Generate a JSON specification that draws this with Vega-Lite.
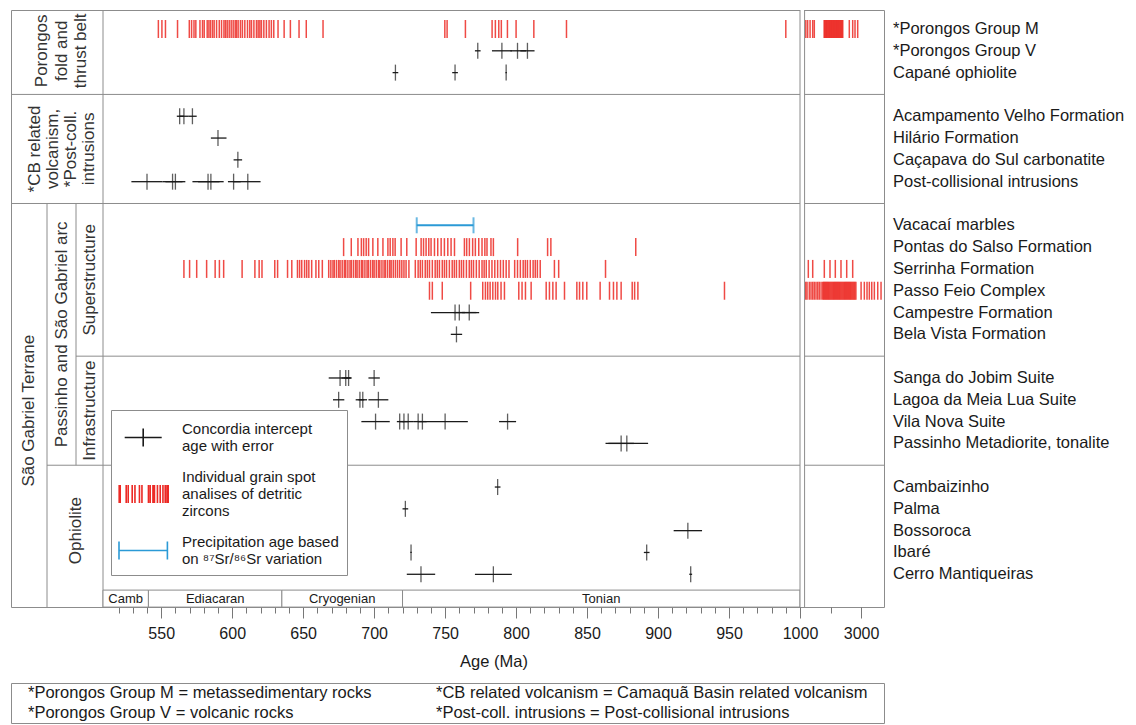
{
  "$schema": "https://vega.github.io/schema/vega-lite/v6.json",
  "padding": {"left": 10, "top": 9, "right": 0, "bottom": 0},
  "spacing": 12,
  "config": {
    "view": {"stroke": "#8c8c8c", "strokeWidth": 1},
    "font": "Liberation Sans",
    "text": {"font": "Liberation Sans", "color": "#1a1a1a"},
    "axis": {"labelFont": "Liberation Sans", "titleFont": "Liberation Sans"},
    "legend": {"labelFont": "Liberation Sans"}
  },
  "datasets": {
    "units": [
      {"unit": "*Porongos Group M"}, {"unit": "*Porongos Group V"}, {"unit": "Capané ophiolite"},
      {"unit": "Acampamento Velho Formation"}, {"unit": "Hilário Formation"}, {"unit": "Caçapava do Sul carbonatite"}, {"unit": "Post-collisional intrusions"},
      {"unit": "Vacacaí marbles"}, {"unit": "Pontas do Salso Formation"}, {"unit": "Serrinha Formation"}, {"unit": "Passo Feio Complex"}, {"unit": "Campestre Formation"}, {"unit": "Bela Vista Formation"},
      {"unit": "Sanga do Jobim Suite"}, {"unit": "Lagoa  da Meia Lua Suite"}, {"unit": "Vila Nova Suite"}, {"unit": "Passinho Metadiorite, tonalite"},
      {"unit": "Cambaizinho"}, {"unit": "Palma"}, {"unit": "Bossoroca"}, {"unit": "Ibaré"}, {"unit": "Cerro Mantiqueiras"}
    ],
    "zircons": [
      {"unit": "*Porongos Group M", "age": 548}, {"unit": "*Porongos Group M", "age": 550.5}, {"unit": "*Porongos Group M", "age": 553}, {"unit": "*Porongos Group M", "age": 561.5},
      {"unit": "*Porongos Group M", "age": 569.8}, {"unit": "*Porongos Group M", "age": 571.4}, {"unit": "*Porongos Group M", "age": 573.1}, {"unit": "*Porongos Group M", "age": 574.4},
      {"unit": "*Porongos Group M", "age": 577.3}, {"unit": "*Porongos Group M", "age": 579.1}, {"unit": "*Porongos Group M", "age": 580.3}, {"unit": "*Porongos Group M", "age": 582.4},
      {"unit": "*Porongos Group M", "age": 583.6}, {"unit": "*Porongos Group M", "age": 584.7}, {"unit": "*Porongos Group M", "age": 586.1}, {"unit": "*Porongos Group M", "age": 587.3},
      {"unit": "*Porongos Group M", "age": 589}, {"unit": "*Porongos Group M", "age": 590.9}, {"unit": "*Porongos Group M", "age": 592.5}, {"unit": "*Porongos Group M", "age": 594.2},
      {"unit": "*Porongos Group M", "age": 595.3}, {"unit": "*Porongos Group M", "age": 596.5}, {"unit": "*Porongos Group M", "age": 597.9}, {"unit": "*Porongos Group M", "age": 599.3},
      {"unit": "*Porongos Group M", "age": 600.7}, {"unit": "*Porongos Group M", "age": 602.1}, {"unit": "*Porongos Group M", "age": 603}, {"unit": "*Porongos Group M", "age": 604.2},
      {"unit": "*Porongos Group M", "age": 605.8}, {"unit": "*Porongos Group M", "age": 607.2}, {"unit": "*Porongos Group M", "age": 608.9}, {"unit": "*Porongos Group M", "age": 610.8},
      {"unit": "*Porongos Group M", "age": 612.4}, {"unit": "*Porongos Group M", "age": 613.6}, {"unit": "*Porongos Group M", "age": 615.3}, {"unit": "*Porongos Group M", "age": 617.1},
      {"unit": "*Porongos Group M", "age": 618.3}, {"unit": "*Porongos Group M", "age": 619.5}, {"unit": "*Porongos Group M", "age": 620.6}, {"unit": "*Porongos Group M", "age": 622.3},
      {"unit": "*Porongos Group M", "age": 624.1}, {"unit": "*Porongos Group M", "age": 626}, {"unit": "*Porongos Group M", "age": 627.6}, {"unit": "*Porongos Group M", "age": 629.3},
      {"unit": "*Porongos Group M", "age": 632.3}, {"unit": "*Porongos Group M", "age": 636.6}, {"unit": "*Porongos Group M", "age": 641}, {"unit": "*Porongos Group M", "age": 647.1},
      {"unit": "*Porongos Group M", "age": 652.2}, {"unit": "*Porongos Group M", "age": 664}, {"unit": "*Porongos Group M", "age": 749.8}, {"unit": "*Porongos Group M", "age": 751.4},
      {"unit": "*Porongos Group M", "age": 764.3}, {"unit": "*Porongos Group M", "age": 783.1}, {"unit": "*Porongos Group M", "age": 785.4}, {"unit": "*Porongos Group M", "age": 787.8},
      {"unit": "*Porongos Group M", "age": 789.6}, {"unit": "*Porongos Group M", "age": 793.9}, {"unit": "*Porongos Group M", "age": 800}, {"unit": "*Porongos Group M", "age": 812.5},
      {"unit": "*Porongos Group M", "age": 835.5}, {"unit": "*Porongos Group M", "age": 990},
      {"unit": "*Porongos Group M", "age": 1190}, {"unit": "*Porongos Group M", "age": 1250}, {"unit": "*Porongos Group M", "age": 1330}, {"unit": "*Porongos Group M", "age": 1416},
      {"unit": "*Porongos Group M", "age": 1468}, {"unit": "*Porongos Group M", "age": 1790}, {"unit": "*Porongos Group M", "age": 1812}, {"unit": "*Porongos Group M", "age": 1835},
      {"unit": "*Porongos Group M", "age": 1858}, {"unit": "*Porongos Group M", "age": 1880}, {"unit": "*Porongos Group M", "age": 1905}, {"unit": "*Porongos Group M", "age": 1930},
      {"unit": "*Porongos Group M", "age": 1952}, {"unit": "*Porongos Group M", "age": 1975}, {"unit": "*Porongos Group M", "age": 2000}, {"unit": "*Porongos Group M", "age": 2022},
      {"unit": "*Porongos Group M", "age": 2046}, {"unit": "*Porongos Group M", "age": 2070}, {"unit": "*Porongos Group M", "age": 2093}, {"unit": "*Porongos Group M", "age": 2115},
      {"unit": "*Porongos Group M", "age": 2140}, {"unit": "*Porongos Group M", "age": 2163}, {"unit": "*Porongos Group M", "age": 2187}, {"unit": "*Porongos Group M", "age": 2210},
      {"unit": "*Porongos Group M", "age": 2235}, {"unit": "*Porongos Group M", "age": 2258}, {"unit": "*Porongos Group M", "age": 2280}, {"unit": "*Porongos Group M", "age": 2305},
      {"unit": "*Porongos Group M", "age": 2330}, {"unit": "*Porongos Group M", "age": 2352}, {"unit": "*Porongos Group M", "age": 2376}, {"unit": "*Porongos Group M", "age": 2400},
      {"unit": "*Porongos Group M", "age": 2614}, {"unit": "*Porongos Group M", "age": 2725}, {"unit": "*Porongos Group M", "age": 2801}, {"unit": "*Porongos Group M", "age": 2889},

      {"unit": "Pontas do Salso Formation", "age": 678.5}, {"unit": "Pontas do Salso Formation", "age": 683.9}, {"unit": "Pontas do Salso Formation", "age": 688.6}, {"unit": "Pontas do Salso Formation", "age": 691},
      {"unit": "Pontas do Salso Formation", "age": 692.6}, {"unit": "Pontas do Salso Formation", "age": 694.4}, {"unit": "Pontas do Salso Formation", "age": 696.1}, {"unit": "Pontas do Salso Formation", "age": 699.1},
      {"unit": "Pontas do Salso Formation", "age": 702.6}, {"unit": "Pontas do Salso Formation", "age": 706.2}, {"unit": "Pontas do Salso Formation", "age": 709.7}, {"unit": "Pontas do Salso Formation", "age": 711.3},
      {"unit": "Pontas do Salso Formation", "age": 713.2}, {"unit": "Pontas do Salso Formation", "age": 714.8}, {"unit": "Pontas do Salso Formation", "age": 719}, {"unit": "Pontas do Salso Formation", "age": 723},
      {"unit": "Pontas do Salso Formation", "age": 729.6}, {"unit": "Pontas do Salso Formation", "age": 733.1}, {"unit": "Pontas do Salso Formation", "age": 734.8}, {"unit": "Pontas do Salso Formation", "age": 736.6},
      {"unit": "Pontas do Salso Formation", "age": 738.5}, {"unit": "Pontas do Salso Formation", "age": 740.1}, {"unit": "Pontas do Salso Formation", "age": 742.5}, {"unit": "Pontas do Salso Formation", "age": 744.8},
      {"unit": "Pontas do Salso Formation", "age": 747.2}, {"unit": "Pontas do Salso Formation", "age": 749.5}, {"unit": "Pontas do Salso Formation", "age": 751.9}, {"unit": "Pontas do Salso Formation", "age": 754.2},
      {"unit": "Pontas do Salso Formation", "age": 756.6}, {"unit": "Pontas do Salso Formation", "age": 763.6}, {"unit": "Pontas do Salso Formation", "age": 765.2}, {"unit": "Pontas do Salso Formation", "age": 767.1},
      {"unit": "Pontas do Salso Formation", "age": 769.4}, {"unit": "Pontas do Salso Formation", "age": 771.3}, {"unit": "Pontas do Salso Formation", "age": 773.7}, {"unit": "Pontas do Salso Formation", "age": 776},
      {"unit": "Pontas do Salso Formation", "age": 778}, {"unit": "Pontas do Salso Formation", "age": 779.5}, {"unit": "Pontas do Salso Formation", "age": 782.3}, {"unit": "Pontas do Salso Formation", "age": 784},
      {"unit": "Pontas do Salso Formation", "age": 801.1}, {"unit": "Pontas do Salso Formation", "age": 822.2}, {"unit": "Pontas do Salso Formation", "age": 824.5}, {"unit": "Pontas do Salso Formation", "age": 884.3},

      {"unit": "Serrinha Formation", "age": 566}, {"unit": "Serrinha Formation", "age": 570}, {"unit": "Serrinha Formation", "age": 575}, {"unit": "Serrinha Formation", "age": 582},
      {"unit": "Serrinha Formation", "age": 588}, {"unit": "Serrinha Formation", "age": 591}, {"unit": "Serrinha Formation", "age": 594}, {"unit": "Serrinha Formation", "age": 607},
      {"unit": "Serrinha Formation", "age": 616}, {"unit": "Serrinha Formation", "age": 619}, {"unit": "Serrinha Formation", "age": 621}, {"unit": "Serrinha Formation", "age": 630},
      {"unit": "Serrinha Formation", "age": 632}, {"unit": "Serrinha Formation", "age": 639}, {"unit": "Serrinha Formation", "age": 642}, {"unit": "Serrinha Formation", "age": 646},
      {"unit": "Serrinha Formation", "age": 647.5}, {"unit": "Serrinha Formation", "age": 649}, {"unit": "Serrinha Formation", "age": 651}, {"unit": "Serrinha Formation", "age": 652.5},
      {"unit": "Serrinha Formation", "age": 654}, {"unit": "Serrinha Formation", "age": 656}, {"unit": "Serrinha Formation", "age": 659}, {"unit": "Serrinha Formation", "age": 661},
      {"unit": "Serrinha Formation", "age": 663.5}, {"unit": "Serrinha Formation", "age": 668}, {"unit": "Serrinha Formation", "age": 669.5}, {"unit": "Serrinha Formation", "age": 671},
      {"unit": "Serrinha Formation", "age": 672}, {"unit": "Serrinha Formation", "age": 673.5}, {"unit": "Serrinha Formation", "age": 675}, {"unit": "Serrinha Formation", "age": 676},
      {"unit": "Serrinha Formation", "age": 677.5}, {"unit": "Serrinha Formation", "age": 679}, {"unit": "Serrinha Formation", "age": 680}, {"unit": "Serrinha Formation", "age": 681.5},
      {"unit": "Serrinha Formation", "age": 683}, {"unit": "Serrinha Formation", "age": 684}, {"unit": "Serrinha Formation", "age": 685.5}, {"unit": "Serrinha Formation", "age": 687},
      {"unit": "Serrinha Formation", "age": 688}, {"unit": "Serrinha Formation", "age": 689.5}, {"unit": "Serrinha Formation", "age": 691}, {"unit": "Serrinha Formation", "age": 692},
      {"unit": "Serrinha Formation", "age": 693.5}, {"unit": "Serrinha Formation", "age": 695}, {"unit": "Serrinha Formation", "age": 696}, {"unit": "Serrinha Formation", "age": 697.5},
      {"unit": "Serrinha Formation", "age": 699}, {"unit": "Serrinha Formation", "age": 700}, {"unit": "Serrinha Formation", "age": 701.5}, {"unit": "Serrinha Formation", "age": 703},
      {"unit": "Serrinha Formation", "age": 704}, {"unit": "Serrinha Formation", "age": 705.5}, {"unit": "Serrinha Formation", "age": 707}, {"unit": "Serrinha Formation", "age": 708},
      {"unit": "Serrinha Formation", "age": 709.5}, {"unit": "Serrinha Formation", "age": 711}, {"unit": "Serrinha Formation", "age": 712}, {"unit": "Serrinha Formation", "age": 713.5},
      {"unit": "Serrinha Formation", "age": 715}, {"unit": "Serrinha Formation", "age": 716.5}, {"unit": "Serrinha Formation", "age": 718}, {"unit": "Serrinha Formation", "age": 719.5},
      {"unit": "Serrinha Formation", "age": 721}, {"unit": "Serrinha Formation", "age": 722.5}, {"unit": "Serrinha Formation", "age": 724.5}, {"unit": "Serrinha Formation", "age": 729},
      {"unit": "Serrinha Formation", "age": 731}, {"unit": "Serrinha Formation", "age": 732.5}, {"unit": "Serrinha Formation", "age": 734}, {"unit": "Serrinha Formation", "age": 736},
      {"unit": "Serrinha Formation", "age": 737.5}, {"unit": "Serrinha Formation", "age": 739}, {"unit": "Serrinha Formation", "age": 741}, {"unit": "Serrinha Formation", "age": 743},
      {"unit": "Serrinha Formation", "age": 744.5}, {"unit": "Serrinha Formation", "age": 746}, {"unit": "Serrinha Formation", "age": 748}, {"unit": "Serrinha Formation", "age": 749.5},
      {"unit": "Serrinha Formation", "age": 751}, {"unit": "Serrinha Formation", "age": 753}, {"unit": "Serrinha Formation", "age": 755}, {"unit": "Serrinha Formation", "age": 756.5},
      {"unit": "Serrinha Formation", "age": 758}, {"unit": "Serrinha Formation", "age": 760}, {"unit": "Serrinha Formation", "age": 761.5}, {"unit": "Serrinha Formation", "age": 763},
      {"unit": "Serrinha Formation", "age": 765}, {"unit": "Serrinha Formation", "age": 767}, {"unit": "Serrinha Formation", "age": 768.5}, {"unit": "Serrinha Formation", "age": 770},
      {"unit": "Serrinha Formation", "age": 772}, {"unit": "Serrinha Formation", "age": 774}, {"unit": "Serrinha Formation", "age": 776}, {"unit": "Serrinha Formation", "age": 777.5},
      {"unit": "Serrinha Formation", "age": 779}, {"unit": "Serrinha Formation", "age": 781}, {"unit": "Serrinha Formation", "age": 783}, {"unit": "Serrinha Formation", "age": 785},
      {"unit": "Serrinha Formation", "age": 787}, {"unit": "Serrinha Formation", "age": 789}, {"unit": "Serrinha Formation", "age": 791}, {"unit": "Serrinha Formation", "age": 793},
      {"unit": "Serrinha Formation", "age": 795}, {"unit": "Serrinha Formation", "age": 799}, {"unit": "Serrinha Formation", "age": 801}, {"unit": "Serrinha Formation", "age": 803},
      {"unit": "Serrinha Formation", "age": 805}, {"unit": "Serrinha Formation", "age": 806.5}, {"unit": "Serrinha Formation", "age": 808}, {"unit": "Serrinha Formation", "age": 810},
      {"unit": "Serrinha Formation", "age": 812}, {"unit": "Serrinha Formation", "age": 813.5}, {"unit": "Serrinha Formation", "age": 815}, {"unit": "Serrinha Formation", "age": 817},
      {"unit": "Serrinha Formation", "age": 827}, {"unit": "Serrinha Formation", "age": 830}, {"unit": "Serrinha Formation", "age": 863},
      {"unit": "Serrinha Formation", "age": 1272}, {"unit": "Serrinha Formation", "age": 1416}, {"unit": "Serrinha Formation", "age": 1796}, {"unit": "Serrinha Formation", "age": 1982},
      {"unit": "Serrinha Formation", "age": 2156}, {"unit": "Serrinha Formation", "age": 2342}, {"unit": "Serrinha Formation", "age": 2529}, {"unit": "Serrinha Formation", "age": 2725},

      {"unit": "Passo Feio Complex", "age": 739}, {"unit": "Passo Feio Complex", "age": 741}, {"unit": "Passo Feio Complex", "age": 748}, {"unit": "Passo Feio Complex", "age": 768},
      {"unit": "Passo Feio Complex", "age": 776.5}, {"unit": "Passo Feio Complex", "age": 778.4}, {"unit": "Passo Feio Complex", "age": 780}, {"unit": "Passo Feio Complex", "age": 781.7},
      {"unit": "Passo Feio Complex", "age": 783.6}, {"unit": "Passo Feio Complex", "age": 785.5}, {"unit": "Passo Feio Complex", "age": 787.1}, {"unit": "Passo Feio Complex", "age": 789.4},
      {"unit": "Passo Feio Complex", "age": 791.8}, {"unit": "Passo Feio Complex", "age": 801.9}, {"unit": "Passo Feio Complex", "age": 804.2}, {"unit": "Passo Feio Complex", "age": 806.6},
      {"unit": "Passo Feio Complex", "age": 810.6}, {"unit": "Passo Feio Complex", "age": 821.2}, {"unit": "Passo Feio Complex", "age": 823.5}, {"unit": "Passo Feio Complex", "age": 825.9},
      {"unit": "Passo Feio Complex", "age": 828.2}, {"unit": "Passo Feio Complex", "age": 834.1}, {"unit": "Passo Feio Complex", "age": 842.8}, {"unit": "Passo Feio Complex", "age": 844.7},
      {"unit": "Passo Feio Complex", "age": 847}, {"unit": "Passo Feio Complex", "age": 849.8}, {"unit": "Passo Feio Complex", "age": 859.2}, {"unit": "Passo Feio Complex", "age": 865.8},
      {"unit": "Passo Feio Complex", "age": 868.6}, {"unit": "Passo Feio Complex", "age": 871}, {"unit": "Passo Feio Complex", "age": 874}, {"unit": "Passo Feio Complex", "age": 881.8},
      {"unit": "Passo Feio Complex", "age": 883.5}, {"unit": "Passo Feio Complex", "age": 885.8}, {"unit": "Passo Feio Complex", "age": 946.8},
      {"unit": "Passo Feio Complex", "age": 1185}, {"unit": "Passo Feio Complex", "age": 1230}, {"unit": "Passo Feio Complex", "age": 1304}, {"unit": "Passo Feio Complex", "age": 1360},
      {"unit": "Passo Feio Complex", "age": 1416}, {"unit": "Passo Feio Complex", "age": 1468}, {"unit": "Passo Feio Complex", "age": 1524}, {"unit": "Passo Feio Complex", "age": 1580},
      {"unit": "Passo Feio Complex", "age": 1632}, {"unit": "Passo Feio Complex", "age": 1690}, {"unit": "Passo Feio Complex", "age": 1745}, {"unit": "Passo Feio Complex", "age": 1775},
      {"unit": "Passo Feio Complex", "age": 1805}, {"unit": "Passo Feio Complex", "age": 1835}, {"unit": "Passo Feio Complex", "age": 1865}, {"unit": "Passo Feio Complex", "age": 1895},
      {"unit": "Passo Feio Complex", "age": 1925}, {"unit": "Passo Feio Complex", "age": 1955}, {"unit": "Passo Feio Complex", "age": 1985}, {"unit": "Passo Feio Complex", "age": 2015},
      {"unit": "Passo Feio Complex", "age": 2045}, {"unit": "Passo Feio Complex", "age": 2075}, {"unit": "Passo Feio Complex", "age": 2105}, {"unit": "Passo Feio Complex", "age": 2135},
      {"unit": "Passo Feio Complex", "age": 2165}, {"unit": "Passo Feio Complex", "age": 2195}, {"unit": "Passo Feio Complex", "age": 2225}, {"unit": "Passo Feio Complex", "age": 2255},
      {"unit": "Passo Feio Complex", "age": 2285}, {"unit": "Passo Feio Complex", "age": 2315}, {"unit": "Passo Feio Complex", "age": 2345}, {"unit": "Passo Feio Complex", "age": 2375},
      {"unit": "Passo Feio Complex", "age": 2405}, {"unit": "Passo Feio Complex", "age": 2435}, {"unit": "Passo Feio Complex", "age": 2465}, {"unit": "Passo Feio Complex", "age": 2495},
      {"unit": "Passo Feio Complex", "age": 2525}, {"unit": "Passo Feio Complex", "age": 2555}, {"unit": "Passo Feio Complex", "age": 2585}, {"unit": "Passo Feio Complex", "age": 2615},
      {"unit": "Passo Feio Complex", "age": 2645}, {"unit": "Passo Feio Complex", "age": 2675}, {"unit": "Passo Feio Complex", "age": 2705}, {"unit": "Passo Feio Complex", "age": 2735},
      {"unit": "Passo Feio Complex", "age": 2765}, {"unit": "Passo Feio Complex", "age": 2795}, {"unit": "Passo Feio Complex", "age": 2830}, {"unit": "Passo Feio Complex", "age": 3000},
      {"unit": "Passo Feio Complex", "age": 3106}, {"unit": "Passo Feio Complex", "age": 3194}, {"unit": "Passo Feio Complex", "age": 3270}, {"unit": "Passo Feio Complex", "age": 3349},
      {"unit": "Passo Feio Complex", "age": 3434}, {"unit": "Passo Feio Complex", "age": 3545}, {"unit": "Passo Feio Complex", "age": 3653}
    ],
    "intercepts": [
      {"unit": "*Porongos Group V", "age": 773, "lo": 771, "hi": 775},
      {"unit": "*Porongos Group V", "age": 790, "lo": 783, "hi": 797},
      {"unit": "*Porongos Group V", "age": 801, "lo": 796, "hi": 807},
      {"unit": "*Porongos Group V", "age": 808, "lo": 803, "hi": 813},
      {"unit": "Capané ophiolite", "age": 715, "lo": 713, "hi": 717},
      {"unit": "Capané ophiolite", "age": 757, "lo": 755, "hi": 759},
      {"unit": "Capané ophiolite", "age": 793, "lo": 792.5, "hi": 793.5},
      {"unit": "Acampamento Velho Formation", "age": 563, "lo": 561, "hi": 566},
      {"unit": "Acampamento Velho Formation", "age": 566, "lo": 563, "hi": 569},
      {"unit": "Acampamento Velho Formation", "age": 572, "lo": 569, "hi": 575},
      {"unit": "Hilário Formation", "age": 590, "lo": 585, "hi": 596},
      {"unit": "Caçapava do Sul carbonatite", "age": 604, "lo": 601, "hi": 607},
      {"unit": "Post-collisional intrusions", "age": 540, "lo": 529, "hi": 551},
      {"unit": "Post-collisional intrusions", "age": 558, "lo": 551, "hi": 567},
      {"unit": "Post-collisional intrusions", "age": 560, "lo": 553, "hi": 565},
      {"unit": "Post-collisional intrusions", "age": 583, "lo": 572, "hi": 594},
      {"unit": "Post-collisional intrusions", "age": 585, "lo": 576, "hi": 591},
      {"unit": "Post-collisional intrusions", "age": 601, "lo": 597, "hi": 606},
      {"unit": "Post-collisional intrusions", "age": 611, "lo": 601, "hi": 620},
      {"unit": "Campestre Formation", "age": 757, "lo": 740, "hi": 774},
      {"unit": "Campestre Formation", "age": 760, "lo": 756, "hi": 764},
      {"unit": "Campestre Formation", "age": 767, "lo": 762, "hi": 772},
      {"unit": "Bela Vista Formation", "age": 758, "lo": 754, "hi": 762},
      {"unit": "Sanga do Jobim Suite", "age": 676, "lo": 668, "hi": 684},
      {"unit": "Sanga do Jobim Suite", "age": 680, "lo": 677, "hi": 683},
      {"unit": "Sanga do Jobim Suite", "age": 682, "lo": 679, "hi": 684},
      {"unit": "Sanga do Jobim Suite", "age": 700, "lo": 696, "hi": 704},
      {"unit": "Lagoa  da Meia Lua Suite", "age": 675, "lo": 671, "hi": 679},
      {"unit": "Lagoa  da Meia Lua Suite", "age": 690, "lo": 687, "hi": 693},
      {"unit": "Lagoa  da Meia Lua Suite", "age": 692, "lo": 689, "hi": 695},
      {"unit": "Lagoa  da Meia Lua Suite", "age": 703, "lo": 696, "hi": 710},
      {"unit": "Vila Nova Suite", "age": 701, "lo": 691, "hi": 711},
      {"unit": "Vila Nova Suite", "age": 718, "lo": 716, "hi": 721},
      {"unit": "Vila Nova Suite", "age": 721, "lo": 718, "hi": 724},
      {"unit": "Vila Nova Suite", "age": 724, "lo": 720, "hi": 728},
      {"unit": "Vila Nova Suite", "age": 731, "lo": 728, "hi": 734},
      {"unit": "Vila Nova Suite", "age": 734, "lo": 731, "hi": 737},
      {"unit": "Vila Nova Suite", "age": 750, "lo": 734, "hi": 766},
      {"unit": "Vila Nova Suite", "age": 794, "lo": 788, "hi": 800},
      {"unit": "Passinho Metadiorite, tonalite", "age": 874, "lo": 865, "hi": 883},
      {"unit": "Passinho Metadiorite, tonalite", "age": 878, "lo": 863, "hi": 893},
      {"unit": "Cambaizinho", "age": 787, "lo": 785, "hi": 789},
      {"unit": "Palma", "age": 722, "lo": 720, "hi": 724},
      {"unit": "Bossoroca", "age": 921, "lo": 911, "hi": 931},
      {"unit": "Ibaré", "age": 726, "lo": 725.5, "hi": 726.5},
      {"unit": "Ibaré", "age": 892, "lo": 890, "hi": 894},
      {"unit": "Cerro Mantiqueiras", "age": 733, "lo": 723, "hi": 743},
      {"unit": "Cerro Mantiqueiras", "age": 784, "lo": 771, "hi": 797},
      {"unit": "Cerro Mantiqueiras", "age": 923, "lo": 922, "hi": 924}
    ],
    "marbles": [
      {"unit": "Vacacaí marbles", "lo": 730, "hi": 770}
    ],
    "periods": [
      {"period": "Camb", "start": 509, "end": 541},
      {"period": "Ediacaran", "start": 541, "end": 635},
      {"period": "Cryogenian", "start": 635, "end": 720},
      {"period": "Tonian", "start": 720, "end": 1000}
    ],
    "axisBreak": [
      {"from": 1000, "to": 1150}
    ],
    "groups": [
      {"label": "Porongos\nfold and\nthrust belt", "lines": 3, "c0": 0, "c1": 3, "anchor": "*Porongos Group V", "at": "center"},
      {"label": "*CB related\nvolcanism,\n*Post-coll.\nintrusions", "lines": 4, "c0": 0, "c1": 3, "anchor": "Caçapava do Sul carbonatite", "at": "top"},
      {"label": "São Gabriel Terrane", "lines": 1, "c0": 0, "c1": 1, "anchor": "Vila Nova Suite", "at": "top"},
      {"label": "Passinho and São Gabriel arc", "lines": 1, "c0": 1, "c1": 2, "anchor": "Bela Vista Formation", "at": "center"},
      {"label": "Superstructure", "lines": 1, "c0": 2, "c1": 3, "anchor": "Passo Feio Complex", "at": "top"},
      {"label": "Infrastructure", "lines": 1, "c0": 2, "c1": 3, "anchor": "Vila Nova Suite", "at": "top"},
      {"label": "Ophiolite", "lines": 1, "c0": 1, "c1": 3, "anchor": "Bossoroca", "at": "center"}
    ],
    "separators": [
      {"sep": "sep1", "c0": 0},
      {"sep": "sep2", "c0": 0},
      {"sep": "sep3", "c0": 2},
      {"sep": "sep4", "c0": 1}
    ],
    "footnotes": [
      {"col": "a", "line": 1, "text": "*Porongos Group M = metassedimentary rocks"},
      {"col": "a", "line": 2, "text": "*Porongos Group V = volcanic rocks"},
      {"col": "b", "line": 1, "text": "*CB related volcanism = Camaquã Basin related volcanism"},
      {"col": "b", "line": 2, "text": "*Post-coll. intrusions = Post-collisional intrusions"}
    ]
  },
  "vconcat": [
    {
      "width": 873,
      "height": 597,
      "layer": [
        {
          "layer": [
            {
              "data": {"name": "separators"},
              "mark": {"type": "rule", "color": "#8c8c8c", "strokeWidth": 1},
              "encoding": {
                "x": {"field": "c0", "type": "quantitative", "axis": null,
                      "scale": {"type": "linear", "domain": [0, 1, 2, 3], "range": [0, 36, 65, 92], "nice": false, "zero": false}},
                "x2": {"value": "width"},
                "y": {"field": "sep", "type": "nominal", "axis": null}
              }
            },
            {
              "data": {"values": [{"c": 3}]},
              "mark": {"type": "rule", "color": "#8c8c8c", "strokeWidth": 1},
              "encoding": {
                "x": {"field": "c", "type": "quantitative", "axis": null}
              }
            },
            {
              "data": {"values": [{"c": 1, "from": "sep2"}]},
              "mark": {"type": "rule", "color": "#8c8c8c", "strokeWidth": 1},
              "encoding": {
                "x": {"field": "c", "type": "quantitative", "axis": null},
                "y": {"field": "from", "type": "nominal", "axis": null},
                "y2": {"value": "height"}
              }
            },
            {
              "data": {"values": [{"c": 2, "from": "sep2", "to": "sep4"}]},
              "mark": {"type": "rule", "color": "#8c8c8c", "strokeWidth": 1},
              "encoding": {
                "x": {"field": "c", "type": "quantitative", "axis": null},
                "y": {"field": "from", "type": "nominal", "axis": null},
                "y2": {"field": "to"}
              }
            },
            {
              "data": {"name": "groups"},
              "transform": [
                {"filter": "datum.lines == 3"},
                {"calculate": "(datum.c0 + datum.c1) / 2", "as": "mid"}
              ],
              "mark": {"type": "text", "angle": 270, "align": "center", "baseline": "middle", "fontSize": 17, "lineHeight": 19.5, "dy": -19.5, "lineBreak": "\n", "color": "#333333"},
              "encoding": {
                "x": {"field": "mid", "type": "quantitative", "axis": null},
                "y": {"field": "anchor", "type": "nominal", "axis": null, "bandPosition": 0.5},
                "text": {"field": "label"}
              }
            },
            {
              "data": {"name": "groups"},
              "transform": [
                {"filter": "datum.lines == 4"},
                {"calculate": "(datum.c0 + datum.c1) / 2", "as": "mid"}
              ],
              "mark": {"type": "text", "angle": 270, "align": "center", "baseline": "middle", "fontSize": 17, "lineHeight": 18, "dy": -27, "lineBreak": "\n", "color": "#333333"},
              "encoding": {
                "x": {"field": "mid", "type": "quantitative", "axis": null},
                "y": {"field": "anchor", "type": "nominal", "axis": null, "bandPosition": 0},
                "text": {"field": "label"}
              }
            },
            {
              "data": {"name": "groups"},
              "transform": [
                {"filter": "datum.lines == 1 && datum.at == 'center'"},
                {"calculate": "(datum.c0 + datum.c1) / 2", "as": "mid"}
              ],
              "mark": {"type": "text", "angle": 270, "align": "center", "baseline": "middle", "fontSize": 17, "color": "#333333"},
              "encoding": {
                "x": {"field": "mid", "type": "quantitative", "axis": null},
                "y": {"field": "anchor", "type": "nominal", "axis": null, "bandPosition": 0.5},
                "text": {"field": "label"}
              }
            },
            {
              "data": {"name": "groups"},
              "transform": [
                {"filter": "datum.lines == 1 && datum.at == 'top'"},
                {"calculate": "(datum.c0 + datum.c1) / 2", "as": "mid"}
              ],
              "mark": {"type": "text", "angle": 270, "align": "center", "baseline": "middle", "fontSize": 17, "color": "#333333"},
              "encoding": {
                "x": {"field": "mid", "type": "quantitative", "axis": null},
                "y": {"field": "anchor", "type": "nominal", "axis": null, "bandPosition": 0},
                "text": {"field": "label"}
              }
            }
          ]
        },
        {
          "data": {"name": "periods"},
          "transform": [{"calculate": "(datum.start + datum.end) / 2", "as": "mid"}],
          "layer": [
            {
              "mark": {"type": "rect", "fill": "white", "stroke": "#8c8c8c", "strokeWidth": 1, "height": 17, "yOffset": 2.5},
              "encoding": {
                "x": {"field": "start", "type": "quantitative",
                      "scale": {"type": "linear", "domain": [509, 1000, 3750], "range": [92, 789, 873], "nice": false, "zero": false},
                      "axis": {"orient": "bottom", "values": [600, 700, 800, 900], "grid": true, "gridDash": [2, 2], "gridColor": "#8c8c8c", "gridWidth": 1, "ticks": false, "labels": false, "domain": false, "title": null}},
                "x2": {"field": "end"},
                "y": {"datum": "periods", "type": "nominal", "axis": null}
              }
            },
            {
              "mark": {"type": "text", "fontSize": 13, "align": "center", "baseline": "middle", "color": "#1a1a1a", "yOffset": 2.5},
              "encoding": {
                "x": {"field": "mid", "type": "quantitative", "axis": null},
                "y": {"datum": "periods", "type": "nominal", "axis": null},
                "text": {"field": "period"}
              }
            }
          ]
        },
        {
          "data": {"name": "intercepts"},
          "mark": {"type": "rule", "color": "#1a1a1a", "strokeWidth": 1.3},
          "encoding": {
            "x": {"field": "lo", "type": "quantitative",
                  "scale": {"type": "linear", "domain": [509, 1000, 3750], "range": [92, 789, 873], "nice": false, "zero": false},
                  "axis": {"orient": "bottom", "values": [520, 530, 540, 560, 570, 580, 590, 610, 620, 630, 640, 660, 670, 680, 690, 710, 720, 730, 740, 760, 770, 780, 790, 810, 820, 830, 840, 860, 870, 880, 890, 910, 920, 930, 940, 960, 970, 980, 990, 2000],
                           "ticks": true, "tickSize": 6, "tickColor": "#777777", "labels": false, "domain": false, "grid": false, "title": null}},
            "x2": {"field": "hi"},
            "y": {"field": "unit", "type": "nominal", "axis": null}
          }
        },
        {
          "data": {"name": "zircons"},
          "mark": {"type": "tick", "color": "#ec2a25", "opacity": 0.85, "size": 18, "thickness": 1.5},
          "encoding": {
            "x": {"field": "age", "type": "quantitative",
                  "scale": {"type": "linear", "domain": [509, 1000, 3750], "range": [92, 789, 873], "nice": false, "zero": false},
                  "axis": {"orient": "bottom", "values": [550, 600, 650, 700, 750, 800, 850, 900, 950, 1000, 3000], "format": "d",
                           "ticks": true, "tickSize": 11, "tickColor": "#777777", "domain": false, "grid": false,
                           "labelFontSize": 16, "labelColor": "#1a1a1a", "labelPadding": 7,
                           "title": "Age (Ma)", "titleFontSize": 16.5, "titleFontWeight": "normal", "titleColor": "#1a1a1a", "titlePadding": 12}},
            "y": {
              "field": "unit", "type": "nominal", "title": null, "axis": null,
              "scale": {
                "type": "band",
                "domain": ["*Porongos Group M", "*Porongos Group V", "Capané ophiolite", "sep1",
                           "Acampamento Velho Formation", "Hilário Formation", "Caçapava do Sul carbonatite", "Post-collisional intrusions", "sep2",
                           "Vacacaí marbles", "Pontas do Salso Formation", "Serrinha Formation", "Passo Feio Complex", "Campestre Formation", "Bela Vista Formation", "sep3",
                           "Sanga do Jobim Suite", "Lagoa  da Meia Lua Suite", "Vila Nova Suite", "Passinho Metadiorite, tonalite", "sep4",
                           "Cambaizinho", "Palma", "Bossoroca", "Ibaré", "Cerro Mantiqueiras", "periods"],
                "paddingInner": 0, "paddingOuter": 0.1855, "align": 1
              }
            }
          }
        },
        {
          "layer": [
            {
              "data": {"name": "axisBreak"},
              "mark": {"type": "rect", "fill": "white", "stroke": null},
              "encoding": {
                "x": {"field": "from", "type": "quantitative", "axis": null,
                      "scale": {"type": "linear", "domain": [509, 1000, 3750], "range": [92, 789, 873], "nice": false, "zero": false}},
                "x2": {"field": "to"}
              }
            },
            {
              "data": {"name": "axisBreak"},
              "mark": {"type": "rule", "color": "#8c8c8c", "strokeWidth": 1},
              "encoding": {
                "x": {"field": "from", "type": "quantitative", "axis": null}
              }
            },
            {
              "data": {"name": "axisBreak"},
              "mark": {"type": "rule", "color": "#8c8c8c", "strokeWidth": 1},
              "encoding": {
                "x": {"field": "to", "type": "quantitative", "axis": null}
              }
            },
            {
              "data": {"name": "intercepts"},
              "mark": {"type": "tick", "color": "#1a1a1a", "size": 16, "thickness": 1.3},
              "encoding": {
                "x": {"field": "age", "type": "quantitative", "axis": null},
                "y": {"field": "unit", "type": "nominal", "axis": null}
              }
            },
            {
              "data": {"name": "marbles"},
              "mark": {"type": "rule", "color": "#2b9ad6", "strokeWidth": 2},
              "encoding": {
                "x": {"field": "lo", "type": "quantitative", "axis": null},
                "x2": {"field": "hi"},
                "y": {"field": "unit", "type": "nominal", "axis": null}
              }
            },
            {
              "data": {"name": "marbles"},
              "mark": {"type": "tick", "color": "#2b9ad6", "size": 16, "thickness": 2},
              "encoding": {
                "x": {"field": "lo", "type": "quantitative", "axis": null},
                "y": {"field": "unit", "type": "nominal", "axis": null}
              }
            },
            {
              "data": {"name": "marbles"},
              "mark": {"type": "tick", "color": "#2b9ad6", "size": 16, "thickness": 2},
              "encoding": {
                "x": {"field": "hi", "type": "quantitative", "axis": null},
                "y": {"field": "unit", "type": "nominal", "axis": null}
              }
            },
            {
              "data": {"name": "units"},
              "mark": {"type": "text", "align": "left", "baseline": "middle", "dx": 9, "fontSize": 16.5, "color": "#1a1a1a"},
              "encoding": {
                "x": {"value": "width"},
                "y": {"field": "unit", "type": "nominal", "axis": null},
                "text": {"field": "unit"}
              }
            },
            {
              "data": {"values": [{"kind": "concordia"}, {"kind": "detrital"}, {"kind": "srsr"}]},
              "transform": [{"filter": "false"}],
              "mark": {"type": "point", "filled": false, "size": 400, "strokeWidth": 1.6},
              "encoding": {
                "color": {
                  "field": "kind", "type": "nominal",
                  "scale": {"domain": ["concordia", "detrital", "srsr"], "range": ["#1a1a1a", "#ec2a25", "#2b9ad6"]},
                  "legend": {"title": null, "orient": "none", "legendX": 100, "legendY": 400, "direction": "vertical",
                             "strokeColor": "#8c8c8c", "fillColor": "white", "padding": 8,
                             "symbolSize": 400, "symbolStrokeWidth": 1.6, "symbolOpacity": 1,
                             "labelFontSize": 15, "labelColor": "#1a1a1a", "labelOffset": 41, "labelLimit": 300, "rowPadding": 12,
                             "labelExpr": "datum.label == 'concordia' ? ['Concordia intercept', 'age with error'] : datum.label == 'detrital' ? ['Individual grain spot', 'analises of detritic', 'zircons'] : ['Precipitation age based', 'on ⁸⁷Sr/⁸⁶Sr variation']"}
                },
                "shape": {
                  "field": "kind", "type": "nominal",
                  "scale": {"domain": ["concordia", "detrital", "srsr"],
                            "range": ["M-0.53,0.85H3.17M1.32,-0.05V1.75",
                                      "M-1.08,0.8V2.6M-0.98,0.8V2.6M-0.38,0.8V2.6M-0.18,0.8V2.6M0.22,0.8V2.6M0.495,0.8V2.6M0.945,0.8V2.6M1.195,0.8V2.6M1.845,0.8V2.6M2.02,0.8V2.6M2.295,0.8V2.6M2.445,0.8V2.6M2.745,0.8V2.6M3.02,0.8V2.6M3.295,0.8V2.6M3.52,0.8V2.6M3.695,0.8V2.6M3.82,0.8V2.6",
                                      "M-1.1,0.85H3.74M-1.1,-0.05V1.75M3.74,-0.05V1.75"]},
                  "legend": {"title": null, "orient": "none", "legendX": 100, "legendY": 400, "direction": "vertical",
                             "strokeColor": "#8c8c8c", "fillColor": "white", "padding": 8,
                             "symbolSize": 400, "symbolStrokeWidth": 1.6, "symbolOpacity": 1,
                             "labelFontSize": 15, "labelColor": "#1a1a1a", "labelOffset": 41, "labelLimit": 300, "rowPadding": 12,
                             "labelExpr": "datum.label == 'concordia' ? ['Concordia intercept', 'age with error'] : datum.label == 'detrital' ? ['Individual grain spot', 'analises of detritic', 'zircons'] : ['Precipitation age based', 'on ⁸⁷Sr/⁸⁶Sr variation']"}
                }
              }
            }
          ]
        }
      ],
      "resolve": {"scale": {"x": "independent"}, "axis": {"x": "independent"}}
    },
    {
      "width": 873,
      "height": 40,
      "data": {"name": "footnotes"},
      "mark": {"type": "text", "align": "left", "baseline": "middle", "fontSize": 16.5, "color": "#1a1a1a"},
      "encoding": {
        "x": {"field": "col", "type": "nominal", "axis": null, "scale": {"type": "point", "range": [17, 425], "padding": 0}},
        "y": {"field": "line", "type": "ordinal", "axis": null, "scale": {"type": "band", "paddingInner": 0, "paddingOuter": 0}},
        "text": {"field": "text"}
      }
    }
  ]
}
